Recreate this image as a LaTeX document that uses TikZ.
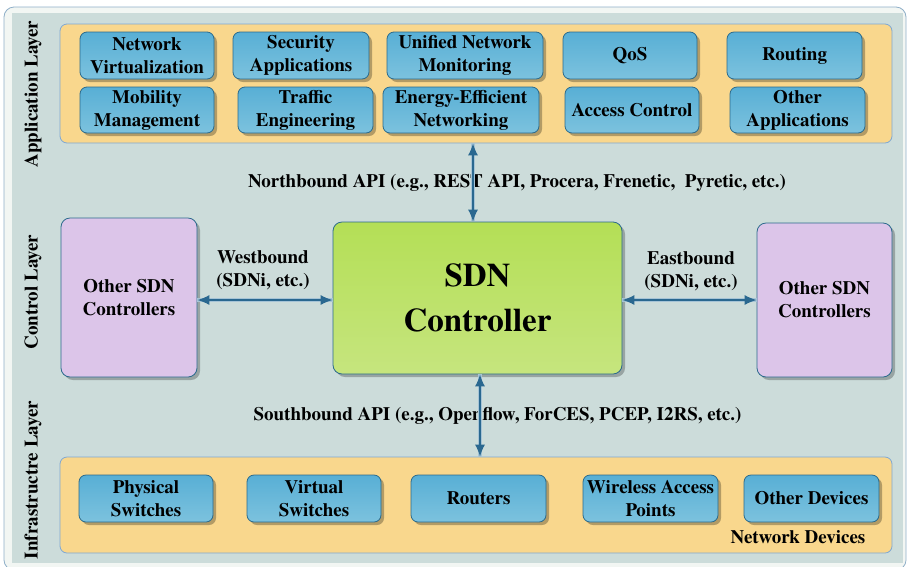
\documentclass[tikz,border=0pt]{standalone}
\usepackage{fontspec}
\setmainfont{TeX Gyre Termes}
\usetikzlibrary{arrows.meta,shadows}
\definecolor{bggrey}{HTML}{CCDCDA}
\definecolor{frameline}{HTML}{8FAFC8}
\definecolor{framefill}{HTML}{F2F6F3}
\definecolor{panelfill}{HTML}{F9D78D}
\definecolor{panelline}{HTML}{7FA8D4}
\definecolor{boxtop}{HTML}{58AFD5}
\definecolor{boxbot}{HTML}{7CC2DE}
\definecolor{boxline}{HTML}{2B6A8C}
\definecolor{ctrltop}{HTML}{B4DF56}
\definecolor{ctrlbot}{HTML}{C6E57E}
\definecolor{purp}{HTML}{DCC5E9}
\definecolor{arrdark}{HTML}{2A6890}
\definecolor{arrlight}{HTML}{A6C4D6}
\tikzset{
  lbl/.style={font=\rmfamily\bfseries\fontsize{19}{23}\selectfont, align=center, text=black},
  appbox/.style={lbl, draw=boxline, line width=0.8pt, rounded corners=7pt,
     top color=boxtop, bottom color=boxbot, inner sep=1pt,
     drop shadow={shadow xshift=3pt, shadow yshift=-3pt, fill=black, opacity=0.28}},
  panel/.style={draw=panelline, line width=0.8pt, fill=panelfill, rounded corners=7pt},
  oscbox/.style={lbl, draw=boxline, line width=0.8pt, rounded corners=9pt, fill=purp,
     drop shadow={shadow xshift=3pt, shadow yshift=-3pt, fill=black, opacity=0.25}},
  ctrlbox/.style={draw=boxline, line width=0.8pt, rounded corners=9pt,
     top color=ctrltop, bottom color=ctrlbot, align=center,
     font=\rmfamily\bfseries\fontsize{33}{45}\selectfont,
     drop shadow={shadow xshift=3pt, shadow yshift=-3pt, fill=black, opacity=0.25}},
  arrbg/.style={line width=3.2pt, draw=arrlight},
  arrfg/.style={line width=1.3pt, draw=arrdark, {Latex[length=12pt,width=10pt]}-{Latex[length=12pt,width=10pt]}},
  layerlbl/.style={lbl, rotate=90, font=\rmfamily\bfseries\fontsize{19}{23}\selectfont}
}
\begin{document}
\begin{tikzpicture}[x=1pt,y=-1pt]
\useasboundingbox (0,0) rectangle (908,566);
% outer frame
\draw[frameline, line width=0.8pt, fill=framefill, rounded corners=10pt] (4,7) rectangle (906,570);
\fill[bggrey] (12,13) rectangle (903,563);

% panels
\node[panel, minimum width=832pt, minimum height=119pt] (app) at (476,83.5) {};
\node[panel, minimum width=832pt, minimum height=96pt] (infra) at (476,505) {};

% layer labels
\node[layerlbl] (lapp) at (33,94) {Application Layer};
\node[layerlbl] (lctl) at (33,292) {Control Layer};
\node[layerlbl] (linf) at (33,480) {Infrastructre Layer};

% application boxes
\node[appbox, minimum width=134pt, minimum height=47pt] (nv)  at (147,55.5)  {Network\\Virtualization};
\node[appbox, minimum width=136pt, minimum height=47pt] (sec) at (301,55.5)  {Security\\Applications};
\node[appbox, minimum width=156pt, minimum height=47pt] (unm) at (465,55.5)  {Unified Network\\Monitoring};
\node[appbox, minimum width=134pt, minimum height=47pt] (qos) at (630,55.5)  {QoS};
\node[appbox, minimum width=135pt, minimum height=47pt] (rou) at (794.5,55.5) {Routing};
\node[appbox, minimum width=134pt, minimum height=46pt] (mob) at (147,110)   {Mobility\\Management};
\node[appbox, minimum width=135pt, minimum height=46pt] (te)  at (305.5,110) {Traffic\\Engineering};
\node[appbox, minimum width=156pt, minimum height=46pt] (ee)  at (461,110)   {Energy-Efficient\\Networking};
\node[appbox, minimum width=134pt, minimum height=46pt] (ac)  at (632,110)   {Access Control};
\node[appbox, minimum width=135pt, minimum height=46pt] (oa)  at (797.5,110) {Other\\Applications};

% control layer
\node[ctrlbox, minimum width=289pt, minimum height=152pt] (ctrl) at (477.5,298) {SDN\\Controller};
\node[oscbox, minimum width=136pt, minimum height=159pt] (oscL) at (129,297.5) {Other SDN\\Controllers};
\node[oscbox, minimum width=135pt, minimum height=154pt] (oscR) at (824.5,300) {Other SDN\\Controllers};

% infrastructure boxes
\node[appbox, minimum width=134pt, minimum height=47pt] (ps)  at (146,498.5)   {Physical\\Switches};
\node[appbox, minimum width=134pt, minimum height=47pt] (vs)  at (314,498.5)   {Virtual\\Switches};
\node[appbox, minimum width=135pt, minimum height=47pt] (rt)  at (478.5,498.5) {Routers};
\node[appbox, minimum width=135pt, minimum height=47pt] (wap) at (650.5,498.5) {Wireless Access\\Points};
\node[appbox, minimum width=135pt, minimum height=47pt] (od)  at (811.5,498.5) {Other Devices};
\node[lbl] (nd) at (798,537) {Network Devices};

% labels
\node[lbl] (nlab) at (517,183) {Northbound API (e.g., REST API, Procera, Frenetic,\ \ Pyretic, etc.)};
\node[lbl] (slab) at (497.5,416) {Southbound API (e.g., Openflow, ForCES, PCEP, I2RS, etc.)};
\node[lbl] (wlab) at (263,270) {Westbound\\(SDNi, etc.)};
\node[lbl] (elab) at (691,271) {Eastbound\\(SDNi, etc.)};

% connectors
\draw[arrbg] ([xshift=-4.5pt,yshift=1pt]ctrl.north) -- ([xshift=-4.5pt]ctrl.north |- app.south);
\draw[arrfg] ([xshift=-4.5pt]ctrl.north) -- ([xshift=-4.5pt]ctrl.north |- app.south);
\draw[arrbg] ([xshift=2.5pt]ctrl.south) -- ([xshift=2.5pt]ctrl.south |- infra.north);
\draw[arrfg] ([xshift=2.5pt]ctrl.south) -- ([xshift=2.5pt]ctrl.south |- infra.north);
\draw[arrbg] ([yshift=-2pt]ctrl.west) -- ([yshift=-2pt]ctrl.west -| oscL.east);
\draw[arrfg] ([yshift=-2pt]ctrl.west) -- ([yshift=-2pt]ctrl.west -| oscL.east);
\draw[arrbg] ([yshift=-2pt]ctrl.east) -- ([yshift=-2pt]ctrl.east -| oscR.west);
\draw[arrfg] ([yshift=-2pt]ctrl.east) -- ([yshift=-2pt]ctrl.east -| oscR.west);
\end{tikzpicture}
\end{document}
